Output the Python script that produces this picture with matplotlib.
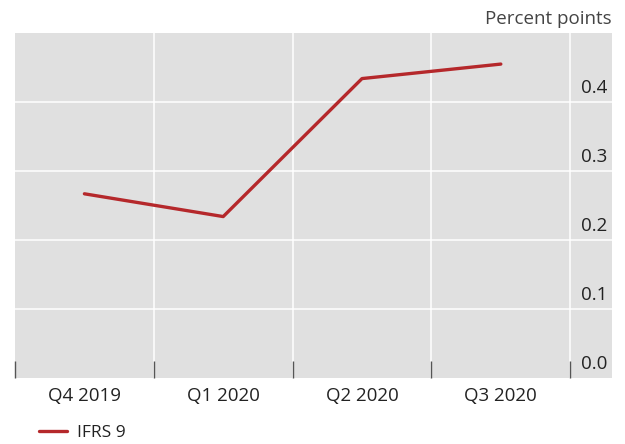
import numpy as np
import matplotlib.pyplot as plt

quarters = ['Q4 2019', 'Q1 2020', 'Q2 2020', 'Q3 2020']
ifrs9 = [0.267, 0.234, 0.434, 0.455]
yticks = [0.0, 0.1, 0.2, 0.3, 0.4]

plt.rcParams['font.family'] = ['Open Sans', 'DejaVu Sans']

fig = plt.figure(figsize=(6.25, 4.44), dpi=100)
ax = fig.add_axes([0.024, 0.1486, 0.955, 0.777])
ax.set_facecolor('#e0e0e0')

x = np.arange(len(quarters)) + 0.5
ax.plot(x, ifrs9, color='#b5282b', lw=2.4, solid_capstyle='round', label='IFRS 9', zorder=3)

ax.set_xlim(0, 4.30)
ax.set_ylim(0, 0.5)

# grid
for v in yticks[1:]:
    ax.axhline(v, color='white', lw=1.1, zorder=1)
for v in range(1, 5):
    ax.axvline(v, color='white', lw=1.1, zorder=1)

for s in ax.spines.values():
    s.set_visible(False)

ax.set_yticks([])
ax.set_xticks(range(0, 5))
ax.set_xticklabels([])
ax.tick_params(axis='x', direction='in', length=12, width=1, color='#555555')
for xi, q in zip(x, quarters):
    ax.text(xi, -0.026, q, ha='center', va='center', fontsize=13.5, color='#222222')

for v in yticks:
    ax.text(4.27, v + 0.008, '%.1f' % v, ha='right', va='bottom', fontsize=13.5, color='#222222')

fig.text(0.979, 0.957, 'Percent points', ha='right', va='center', fontsize=13.5, color='#444444')

ax.legend(loc='center left', bbox_to_anchor=(0.04, -0.16), frameon=False, fontsize=12.5,
          handlelength=1.6, handletextpad=0.6, borderaxespad=0, borderpad=0,
          labelcolor='#222222')

fig.savefig('out.png', dpi=100)
